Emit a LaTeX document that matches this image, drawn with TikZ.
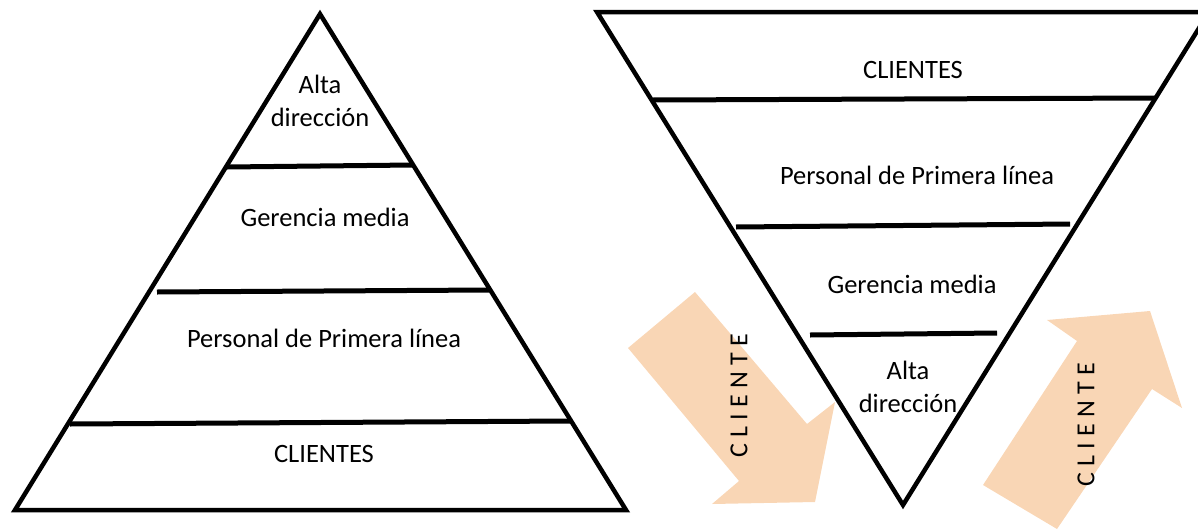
\documentclass[tikz,border=0pt]{standalone}
\usepackage{fontspec}
\setmainfont{Carlito}
\usepackage{tikz}
\definecolor{peach}{RGB}{249,214,181}
\tikzset{
  outline/.style={line width=4.5pt, line join=miter},
  layer/.style={line width=5pt},
  lbl/.style={font=\fontsize{26.5}{33}\selectfont, align=center, inner sep=0pt},
  cliente/.style={rotate=90, inner sep=0pt, font=\fontsize{26}{30}\selectfont\addfontfeature{LetterSpace=24}}
}

\begin{document}
\begin{tikzpicture}[x=1pt, y=-1pt]
\useasboundingbox (0,0) rectangle (1198,530);
% arrows
\fill[peach] (695,292) -- (807,424) -- (835,402) -- (815,502) -- (712,504) -- (739,481) -- (628,348) -- cycle;
\fill[peach] (1047,320) -- (1150,311) -- (1182,408) -- (1152,389) -- (1057,529) -- (983,485) -- (1077,341) -- cycle;
\node[cliente] (cliente1) at (739,396) {CLIENTE};
\node[cliente] (cliente2) at (1086,425) {CLIENTE};
% classic pyramid
\draw[outline] (320,14) -- (626,510) -- (15,510) -- cycle;
\draw[layer] (227,167) -- (413,165);
\draw[layer] (157,292) -- (489,290);
\draw[layer] (70,424) -- (570,421);
\node[lbl] (alta1) at (320,101) {Alta\\dirección};
\node[lbl] (gerencia1) at (325,217) {Gerencia media};
\node[lbl] (personal1) at (324,338) {Personal de Primera línea};
\node[lbl] (clientes1) at (324,454) {CLIENTES};
% inverted pyramid
\draw[outline] (597,12) -- (1209,12) -- (903,505) -- cycle;
\draw[layer] (653,100) -- (1155,98);
\draw[layer] (736,227) -- (1070,224);
\draw[layer] (810,335) -- (997,333);
\node[lbl] (clientes2) at (913,70) {CLIENTES};
\node[lbl] (personal2) at (917,175) {Personal de Primera línea};
\node[lbl] (gerencia2) at (912,284) {Gerencia media};
\node[lbl] (alta2) at (908,387) {Alta\\dirección};
\end{tikzpicture}
\end{document}
